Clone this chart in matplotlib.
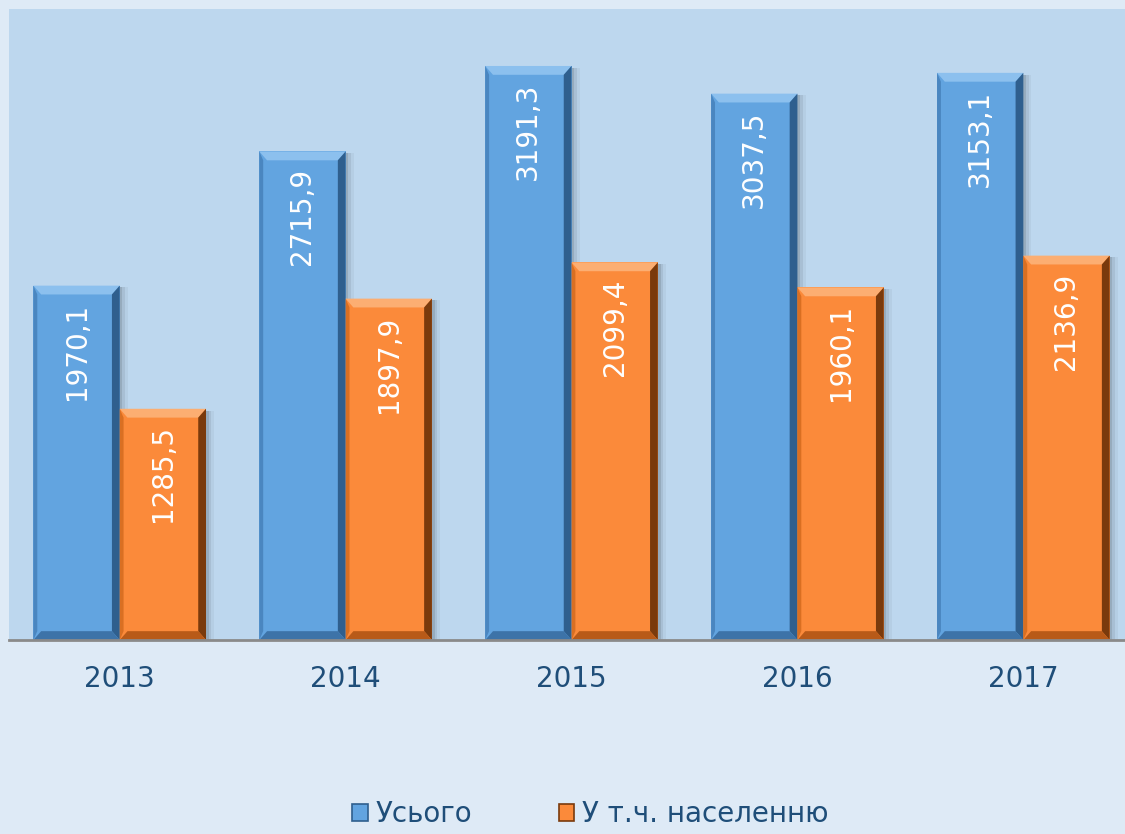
import numpy as np
import matplotlib.pyplot as plt
from matplotlib.patches import Polygon, Patch

# data
years = ["2013", "2014", "2015", "2016", "2017"]
total = [1970.1, 2715.9, 3191.3, 3037.5, 3153.1]
population = [1285.5, 1897.9, 2099.4, 1960.1, 2136.9]
total_labels = ["1970,1", "2715,9", "3191,3", "3037,5", "3153,1"]
population_labels = ["1285,5", "1897,9", "2099,4", "1960,1", "2136,9"]
series_names = ["Усього", "У т.ч. населенню"]

BLUE = "#62a4e0"
ORANGE = "#fb8a3a"
TEXT = "#1f4e79"

fig = plt.figure(figsize=(11.25, 8.34), dpi=100)
fig.patch.set_facecolor("#deeaf6")
ax = fig.add_axes([0.008, 0.2326, 0.992, 0.7566])
ax.set_facecolor("#bdd7ee")

x = np.arange(len(years))
w = 0.382


def bevel(ax, x0, width, height, color_top, color_right, color_left, color_bottom):
    # simple bevel: thin trapezoids along each edge, computed from bar geometry
    dx = width * 0.09
    dy = ax.get_ylim()[1] * 0.014
    x1 = x0 + width
    ax.add_patch(Polygon([(x0, height), (x1, height), (x1 - dx, height - dy), (x0 + dx, height - dy)],
                         closed=True, color=color_top, lw=0, zorder=3))
    ax.add_patch(Polygon([(x1, height), (x1, 0), (x1 - dx, dy), (x1 - dx, height - dy)],
                         closed=True, color=color_right, lw=0, zorder=3))
    ax.add_patch(Polygon([(x0, height), (x0, 0), (x0 + dx * 0.5, dy), (x0 + dx * 0.5, height - dy)],
                         closed=True, color=color_left, lw=0, zorder=3))
    ax.add_patch(Polygon([(x0, 0), (x1, 0), (x1 - dx, dy), (x0 + dx, dy)],
                         closed=True, color=color_bottom, lw=0, zorder=3))


ax.set_xlim(-0.49, 4.45)
ax.set_ylim(0, 3508)

# soft shadows on the right side of each bar
for k, a in enumerate([0.10, 0.07, 0.04]):
    off = 0.012 * (k + 1)
    for xi, v in zip(x, total):
        ax.bar(xi - w / 2 + off, v - 10, w, color="#000000", alpha=a, zorder=1, lw=0)
    for xi, v in zip(x, population):
        ax.bar(xi + w / 2 + off, v - 10, w, color="#000000", alpha=a, zorder=1, lw=0)

b1 = ax.bar(x - w / 2, total, w, color=BLUE, zorder=2)
b2 = ax.bar(x + w / 2, population, w, color=ORANGE, zorder=2)

for rect in b1:
    bevel(ax, rect.get_x(), rect.get_width(), rect.get_height(),
          "#8cc0ee", "#2f5f8e", "#4a86c0", "#3d73a8")
for rect in b2:
    bevel(ax, rect.get_x(), rect.get_width(), rect.get_height(),
          "#fcae72", "#7a3a0c", "#d96f22", "#b85a18")

for rect, lab in zip(list(b1) + list(b2), total_labels + population_labels):
    ax.annotate(lab, (rect.get_x() + rect.get_width() / 2, rect.get_height()),
                xytext=(0, -12), textcoords="offset points",
                rotation=90, ha="center", va="top", color="white", fontsize=20,
                family="DejaVu Sans", zorder=5)

ax.set_xticks(x)
ax.set_xticklabels(years, fontsize=20, color=TEXT)
ax.tick_params(axis="x", length=0, pad=18)
ax.set_yticks([])
for s in ["top", "right", "left"]:
    ax.spines[s].set_visible(False)
ax.spines["bottom"].set_color("#8a8a8a")
ax.spines["bottom"].set_linewidth(2)
ax.spines["bottom"].set_zorder(6)

handles = [Patch(facecolor=BLUE, edgecolor="#2f5f8e", lw=1.2),
           Patch(facecolor=ORANGE, edgecolor="#7a3a0c", lw=1.2)]
leg = fig.legend(handles, series_names, loc="center", bbox_to_anchor=(0.525, 0.024),
                 ncol=2, frameon=False, fontsize=20, handlelength=0.55, handleheight=0.55,
                 handletextpad=0.3, columnspacing=3.1, labelcolor=TEXT,
                 borderpad=0.1)

fig.savefig("out.png", dpi=100, facecolor=fig.get_facecolor())
